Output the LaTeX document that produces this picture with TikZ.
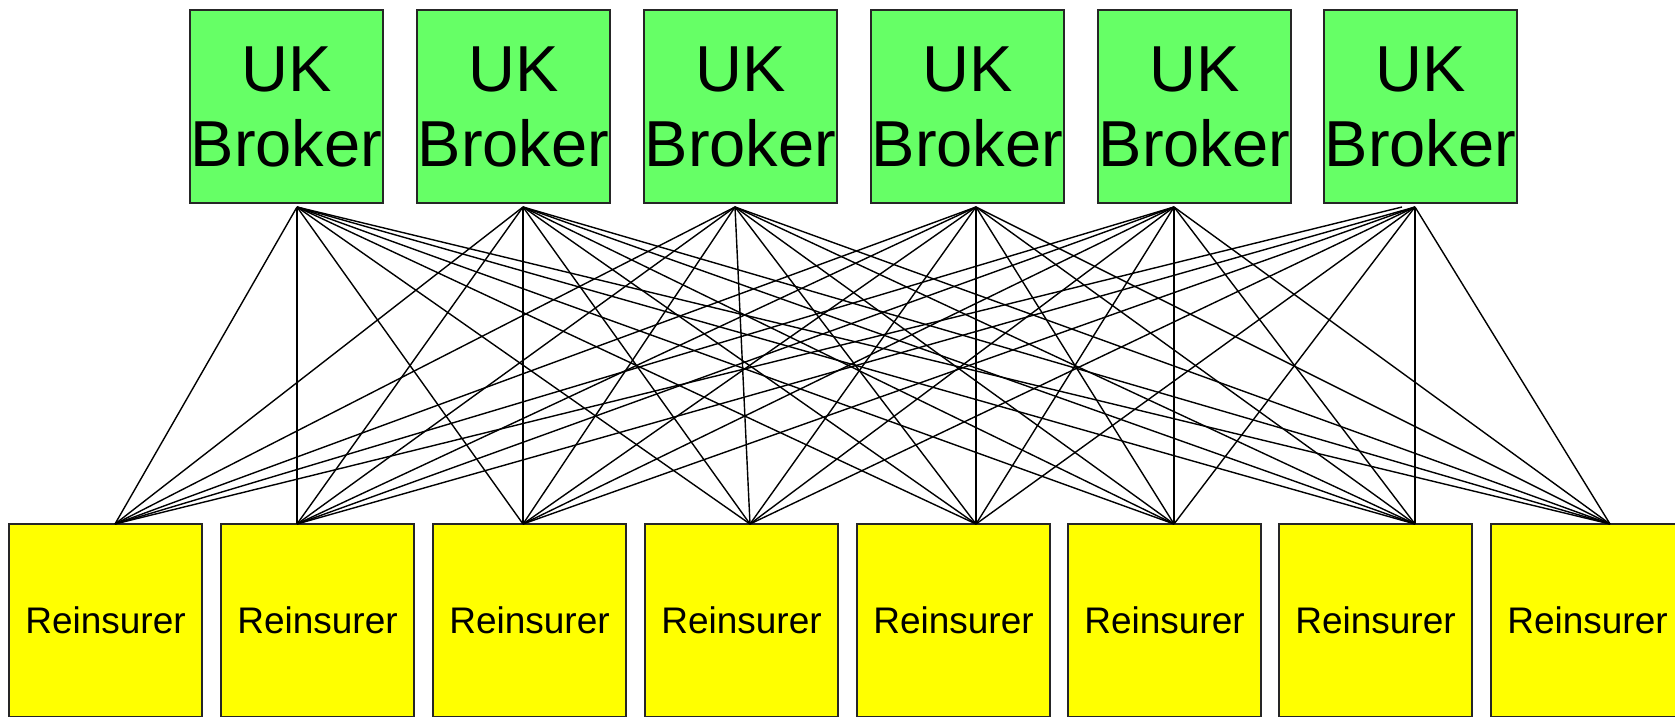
\documentclass[tikz,border=0pt]{standalone}
\usepackage{fontspec}
\setmainfont{Liberation Sans}
\definecolor{brokergreen}{HTML}{66FF66}
\definecolor{reyellow}{HTML}{FFFF00}
\begin{document}
\begin{tikzpicture}[x=1pt,y=-1pt,
  box/.style={draw=black!85,line width=1.6pt,rectangle,minimum width=193pt,minimum height=193pt,inner sep=0pt,align=center},
  broker/.style={box,fill=brokergreen,font=\fontsize{65}{75}\selectfont},
  reins/.style={box,fill=reyellow,font=\fontsize{37}{44}\selectfont},
  link/.style={line width=1.4pt,black}]
\useasboundingbox (0,0) rectangle (1675,717);
\clip (0,0) rectangle (1675,717);
% brokers (top row)
\foreach \i/\x in {1/286.5,2/513.5,3/740.5,4/967.5,5/1194.5,6/1420.5}
  \node[broker] (b\i) at (\x,106.5) {UK\\Broker};
% reinsurers (bottom row)
\foreach \i/\x in {1/105.5,2/317.5,3/529.5,4/741.5,5/953.5,6/1164.5,7/1375.5,8/1587.5}
  \node[reins] (r\i) at (\x,620.5) {Reinsurer};
% attachment points of the links
\foreach \i/\x in {1/297,2/523,3/735,4/976,5/1174,6/1415}
  \coordinate (bp\i) at (\x,207);
\coordinate (bp6a) at (1402,207);
\foreach \i/\x in {1/115,2/297,3/523,4/750,5/976,6/1174,7/1415,8/1610}
  \coordinate (rp\i) at (\x,524);
% every broker places business with every reinsurer
\foreach \i in {1,...,5}
  \foreach \j in {1,...,8}
    \draw[link] (bp\i) -- (rp\j);
\draw[link] (bp6a) -- (rp1);
\foreach \j in {2,...,8}
  \draw[link] (bp6) -- (rp\j);
\end{tikzpicture}
\end{document}
